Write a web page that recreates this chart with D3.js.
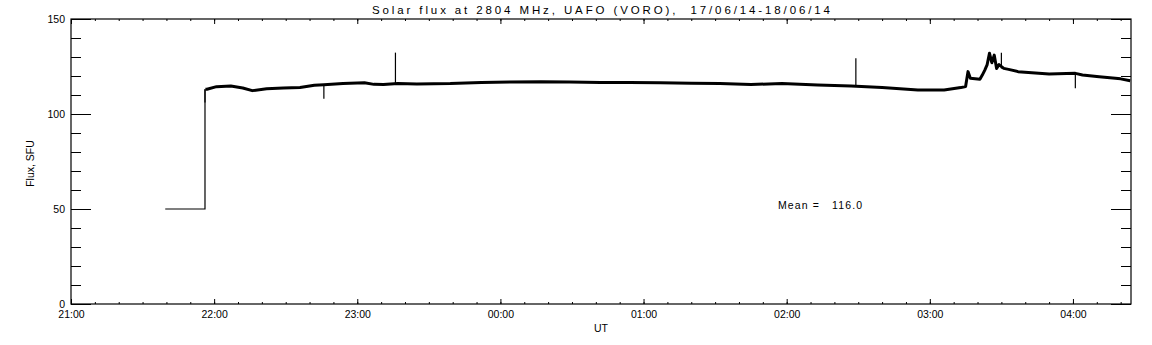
<!DOCTYPE html>
<html>
<head>
<meta charset="utf-8">
<script src="https://cdn.jsdelivr.net/npm/d3@7"></script>
<style>
  body { margin: 0; background: #fff; }
  svg { display: block; }
  text { font-family: "Liberation Sans", "DejaVu Sans", sans-serif; fill: #000; white-space: pre; }
</style>
</head>
<body>
<main></main>
<script>
// readings: calibration step, flux series, thin spikes
const calTimes = ["21:39:30", "21:56:10", "21:56:10"];
const calValues = [50, 50, 113];

const fluxTimes = ["21:56:20", "21:57", "22:01", "22:07", "22:12", "22:16", "22:22", "22:29", "22:36", "22:42",
    "22:46", "22:54", "23:03", "23:07", "23:11", "23:17", "23:25", "23:39", "23:52", "00:04",
    "00:17", "00:29", "00:42", "00:54", "01:07", "01:20", "01:32", "01:45", "01:58", "02:13",
    "02:27", "02:40", "02:55", "03:06", "03:13", "03:15", "03:16", "03:17", "03:21", "03:22",
    "03:23", "03:24", "03:25", "03:26", "03:27", "03:28", "03:29", "03:31", "03:33", "03:37",
    "03:50", "04:01", "04:04", "04:11", "04:20", "04:24"];
const fluxValues = [113, 113, 114.4, 114.7, 113.7, 112.3, 113.3, 113.7, 113.9, 115.1,
    115.4, 116.1, 116.5, 115.6, 115.5, 116.1, 115.8, 116, 116.6, 116.8,
    117, 116.8, 116.6, 116.6, 116.4, 116.2, 116, 115.5, 116.1, 115.3,
    114.7, 113.9, 112.6, 112.6, 113.9, 114.5, 122.3, 118.8, 118.3, 120.5,
    123, 125.8, 132, 127, 131, 124, 126, 124, 123.5, 122.3,
    121, 121.4, 120.5, 119.6, 118.5, 117.5];

const spikeTimes = ["21:56:10", "22:46", "23:16", "02:29", "03:30", "04:01"];
const spikeBase = [113, 115.4, 116, 115, 124, 121];
const spikeTop = [106, 108, 132.3, 129.3, 132.3, 113.5];

const yMajorTicks = [0, 50, 100, 150];
const yMinorTicks = [10, 20, 30, 40, 60, 70, 80, 90, 110, 120, 130, 140];

const titleText = "Solar flux at 2804 MHz, UAFO (VORO),  17/06/14-18/06/14";
const meanText = "Mean =   116.0";

const sizeOfSVG = { width: 1152, height: 345 };
const plot = { left: 71, right: 1131, top: 19, bottom: 304 };

const parseTime = d3.utcParse("%Y-%m-%d %H:%M:%S");
const toDate = (s) => {
    const full = s.length === 5 ? s + ":00" : s;
    const hour = +full.slice(0, 2);
    const day = hour >= 12 ? "2014-06-17" : "2014-06-18";
    return parseTime(day + " " + full);
};

const svg = d3.select('main')
    .append('svg')
    .attr('width', sizeOfSVG.width)
    .attr('height', sizeOfSVG.height);

const xScale = d3.scaleUtc()
    .domain([toDate("21:00"), toDate("04:24:20")])
    .range([plot.left, plot.right]);
const yScale = d3.scaleLinear()
    .domain([0, 150])
    .range([plot.bottom, plot.top]);

const hourTicks = d3.utcHour.every(1).range(toDate("21:00"), toDate("04:25"));
const minorTicks = d3.utcMinute.every(10).range(toDate("21:00"), toDate("04:25"));

// axes, IDL style: ticks pointing into the plot
const axes = () => {
    const noLabel = () => "";
    svg.append('g').attr('class', 'ax')
        .attr('transform', `translate(0,${plot.bottom})`)
        .call(d3.axisBottom(xScale).tickValues(minorTicks).tickSize(-2).tickFormat(noLabel));
    svg.append('g').attr('class', 'ax')
        .attr('transform', `translate(0,${plot.bottom})`)
        .call(d3.axisBottom(xScale).tickValues(hourTicks).tickSize(-5).tickPadding(7).tickFormat(d3.utcFormat("%H:%M")));
    svg.append('g').attr('class', 'ax')
        .attr('transform', `translate(0,${plot.top})`)
        .call(d3.axisTop(xScale).tickValues(minorTicks).tickSize(-2).tickFormat(noLabel));
    svg.append('g').attr('class', 'ax')
        .attr('transform', `translate(0,${plot.top})`)
        .call(d3.axisTop(xScale).tickValues(hourTicks).tickSize(-5).tickFormat(noLabel));

    svg.append('g').attr('class', 'ax')
        .attr('transform', `translate(${plot.left},0)`)
        .call(d3.axisLeft(yScale).tickValues(yMinorTicks).tickSize(-10).tickFormat(noLabel));
    svg.append('g').attr('class', 'ax')
        .attr('transform', `translate(${plot.left},0)`)
        .call(d3.axisLeft(yScale).tickValues(yMajorTicks).tickSize(-20).tickPadding(6).tickFormat(d3.format("d")));
    svg.append('g').attr('class', 'ax')
        .attr('transform', `translate(${plot.right},0)`)
        .call(d3.axisRight(yScale).tickValues(yMinorTicks).tickSize(-10).tickFormat(noLabel));
    svg.append('g').attr('class', 'ax')
        .attr('transform', `translate(${plot.right},0)`)
        .call(d3.axisRight(yScale).tickValues(yMajorTicks).tickSize(-20).tickFormat(noLabel));

    svg.selectAll('.ax .domain').remove();
    svg.selectAll('.ax line').attr('stroke', '#000').attr('stroke-width', 1);
    svg.selectAll('.ax text').style('font-size', '10.5px').attr('font-family', null);

    // frame
    svg.append('rect')
        .attr('x', plot.left).attr('y', plot.top)
        .attr('width', plot.right - plot.left).attr('height', plot.bottom - plot.top)
        .attr('fill', 'none').attr('stroke', '#000').attr('stroke-width', 1.2);
};

const lines = () => {
    const line = d3.line()
        .x((d) => xScale(d[0]))
        .y((d) => yScale(d[1]));

    const cal = calTimes.map((t, i) => [toDate(t), calValues[i]]);
    svg.append('path')
        .attr('d', line(cal))
        .attr('fill', 'none').attr('stroke', '#000').attr('stroke-width', 1.2);

    const flux = fluxTimes.map((t, i) => [toDate(t), fluxValues[i]]);
    svg.append('path')
        .attr('d', line(flux))
        .attr('fill', 'none').attr('stroke', '#000').attr('stroke-width', 3)
        .attr('stroke-linejoin', 'round');

    svg.selectAll('line.spike')
        .data(spikeTimes)
        .enter()
        .append('line')
        .attr('class', 'spike')
        .attr('x1', (d) => xScale(toDate(d)))
        .attr('x2', (d) => xScale(toDate(d)))
        .attr('y1', (d, i) => yScale(spikeBase[i]))
        .attr('y2', (d, i) => yScale(spikeTop[i]))
        .attr('stroke', '#000').attr('stroke-width', 1.2);
};

const labels = () => {
    svg.append('text')
        .attr('x', 372).attr('y', 14)
        .attr('textLength', 458).attr('lengthAdjust', 'spacing')
        .style('font-size', '11.5px')
        .text(titleText);

    svg.append('text')
        .attr('transform', `translate(34,${(plot.top + plot.bottom) / 2 + 2}) rotate(-90)`)
        .attr('text-anchor', 'middle')
        .style('font-size', '10.5px')
        .text("Flux, SFU");

    svg.append('text')
        .attr('x', 601).attr('y', 332)
        .attr('text-anchor', 'middle')
        .style('font-size', '10.5px')
        .text("UT");

    svg.append('text')
        .attr('x', 778).attr('y', 209)
        .attr('textLength', 84).attr('lengthAdjust', 'spacing')
        .style('font-size', '10.5px')
        .text(meanText);
};

axes();
lines();
labels();
</script>
</body>
</html>
